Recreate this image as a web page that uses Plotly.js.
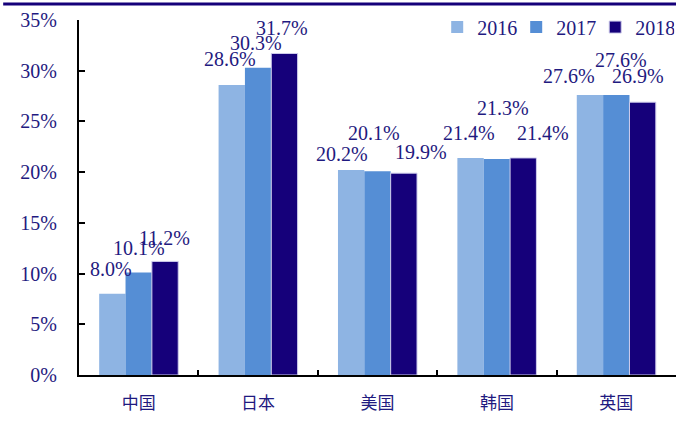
<!DOCTYPE html>
<html>
<head>
<meta charset="utf-8">
<script src="https://cdn.plot.ly/plotly-3.0.1.min.js"></script>
<style>html,body{margin:0;padding:0;background:#fff;}#chart{width:676px;height:421px;}</style>
</head>
<body>
<div id="chart"></div>
<script>
// ---- data ----
var categories = ["中国", "日本", "美国", "韩国", "英国"];
var seriesNames = ["2016", "2017", "2018"];
var values2016 = [8.0, 28.6, 20.2, 21.4, 27.6];
var values2017 = [10.1, 30.3, 20.1, 21.3, 27.6];
var values2018 = [11.2, 31.7, 19.9, 21.4, 26.9];
var yTickVals = [0, 5, 10, 15, 20, 25, 30, 35];
var yTickText = ["0%", "5%", "10%", "15%", "20%", "25%", "30%", "35%"];

// ---- styles ----
var navy = "#1F1A80";
var colors = ["#8EB4E3", "#558ED5", "#15007A"];
var lineCols = ["rgba(0,0,0,0)", "rgba(0,0,0,0)", "#cfcdec"];
var serif = "Liberation Serif";
var barPx = 26.3;
// label nudges (px) to follow the reference's hand-placed labels
var nudgeX = [[-1, -2, -9, -2, -21], [0, -2, -4, 6, 5], [-1, -2, 17, 20, -5]];
var nudgeY = [[12, 13, 3, 12, 6], [12, 12, 25, 38, 22], [10, 12, 8, 12, 13]];

var allVals = [values2016, values2017, values2018];
var traces = allVals.map(function (v, i) {
  return {
    type: "bar", x: categories, y: v, name: seriesNames[i],
    marker: {color: colors[i], line: {color: lineCols[i], width: i === 2 ? 1 : 0}},
    hoverinfo: "skip"
  };
});

var annotations = [];
allVals.forEach(function (v, i) {
  v.forEach(function (val, j) {
    annotations.push({
      x: categories[j], y: val, xref: "x", yref: "y",
      text: val.toFixed(1) + "%", showarrow: false,
      xanchor: "center", yanchor: "bottom",
      xshift: (i - 1) * barPx + nudgeX[i][j], yshift: nudgeY[i][j],
      font: {family: serif, size: 20, color: navy}
    });
  });
});

var layout = {
  width: 676, height: 421,
  margin: {l: 79, r: 0, t: 20, b: 46, autoexpand: false},
  paper_bgcolor: "#fff", plot_bgcolor: "#fff",
  barmode: "group", bargap: 0.338, bargroupgap: 0,
  showlegend: true,
  legend: {
    orientation: "h", x: 0.6, xanchor: "left", y: 0.98, yanchor: "middle",
    bgcolor: "rgba(0,0,0,0)", font: {family: serif, size: 20, color: navy},
    entrywidth: 34, entrywidthmode: "pixels", traceorder: "normal"
  },
  xaxis: {
    type: "category", showline: true, linecolor: "#000", linewidth: 2,
    ticks: "inside", tickson: "boundaries", ticklen: 5, tickwidth: 2, tickcolor: "#000",
    showgrid: false, zeroline: false,
    tickfont: {family: "Noto Sans CJK SC", size: 17, color: navy},
    ticklabelstandoff: 12
  },
  yaxis: {
    range: [0, 35], tickvals: yTickVals, ticktext: yTickText,
    showline: true, linecolor: "#000", linewidth: 2,
    ticks: "inside", ticklen: 6, tickwidth: 2, tickcolor: "#000",
    showgrid: false, zeroline: false,
    tickfont: {family: serif, size: 20, color: navy},
    ticklabelstandoff: 16
  },
  shapes: [{
    type: "line", xref: "paper", yref: "paper",
    x0: -0.127, x1: 1, y0: 1.045, y1: 1.045,
    line: {color: "#15007A", width: 3}
  }],
  annotations: annotations
};

Plotly.newPlot("chart", traces, layout, {displayModeBar: false, staticPlot: true});
</script>
</body>
</html>
